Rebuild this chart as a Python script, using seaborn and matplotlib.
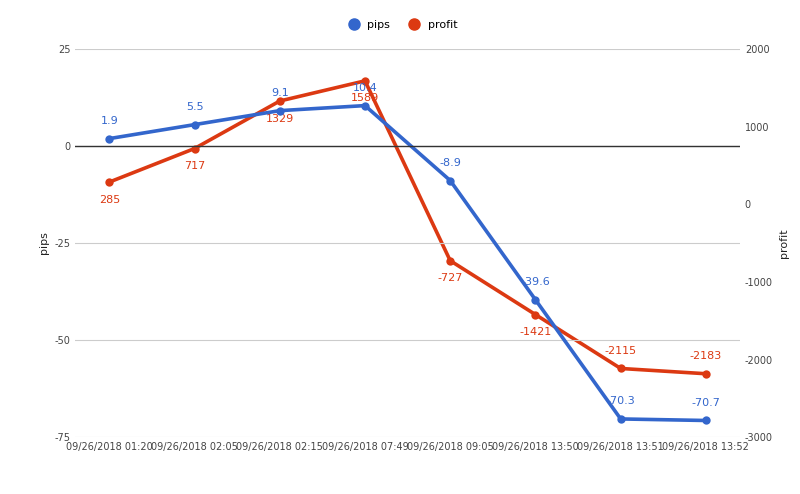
import matplotlib
matplotlib.use("Agg")
import matplotlib.pyplot as plt
import seaborn as sns
import pandas as pd
from matplotlib.lines import Line2D

plt.rcParams["axes.unicode_minus"] = False

categories = ["09/26/2018 01:20", "09/26/2018 02:05", "09/26/2018 02:15", "09/26/2018 07:49",
              "09/26/2018 09:05", "09/26/2018 13:50", "09/26/2018 13:51", "09/26/2018 13:52"]
pips = [1.9, 5.5, 9.1, 10.4, -8.9, -39.6, -70.3, -70.7]
profit = [285, 717, 1329, 1589, -727, -1421, -2115, -2183]
left_ticks = [25, 0, -25, -50, -75]
right_ticks = [2000, 1000, 0, -1000, -2000, -3000]

BLUE, RED = "#3366cc", "#dc3912"
df = pd.DataFrame({"x": range(len(categories)), "pips": pips, "profit": profit})

fig = plt.figure(figsize=(8, 4.94), dpi=100)
ax = fig.add_axes([0.094, 0.115, 0.831, 0.786])
ax2 = ax.twinx()
ax.set_zorder(ax2.get_zorder() + 1)
ax.patch.set_visible(False)

sns.lineplot(data=df, x="x", y="profit", ax=ax2, color=RED, lw=2.6, marker="o",
             markersize=6, markeredgewidth=0)
sns.lineplot(data=df, x="x", y="pips", ax=ax, color=BLUE, lw=2.6, marker="o",
             markersize=6, markeredgewidth=0)

ax.set_ylim(-75, 25)
ax2.set_ylim(-3000, 2000)
ax.set_xlim(-0.4, len(categories) - 0.6)
ax.set_yticks(left_ticks)
ax2.set_yticks(right_ticks)
ax.grid(axis="y", color="#cccccc", lw=0.8)
ax.axhline(0, color="#333333", lw=1)
for a in (ax, ax2):
    for s in a.spines.values():
        s.set_visible(False)
    a.tick_params(length=0, labelsize=7, labelcolor="#444444")
ax.set_xticks(range(len(categories)))
ax.set_xticklabels(categories, fontsize=7)
ax.set_xlabel("")
ax.set_ylabel("pips", fontsize=8, color="#222222")
ax2.set_ylabel("profit", fontsize=8, color="#222222")

for i, v in enumerate(pips):
    ax.annotate(f"{v:g}", (i, v), xytext=(0, 9), textcoords="offset points",
                ha="center", va="bottom", color=BLUE, fontsize=8)
for i, v in enumerate(profit):
    above = i >= len(profit) - 2
    ax2.annotate(f"{v}", (i, v), xytext=(0, 9 if above else -9), textcoords="offset points",
                 ha="center", va="bottom" if above else "top", color=RED, fontsize=8)

handles = [Line2D([], [], ls="", marker="o", color=BLUE, markersize=8),
           Line2D([], [], ls="", marker="o", color=RED, markersize=8)]
fig.legend(handles, ["pips", "profit"], loc="upper center", bbox_to_anchor=(0.5, 0.98),
           ncol=2, frameon=False, fontsize=8, handletextpad=0.2, columnspacing=1.2)
fig.savefig("out.png")
